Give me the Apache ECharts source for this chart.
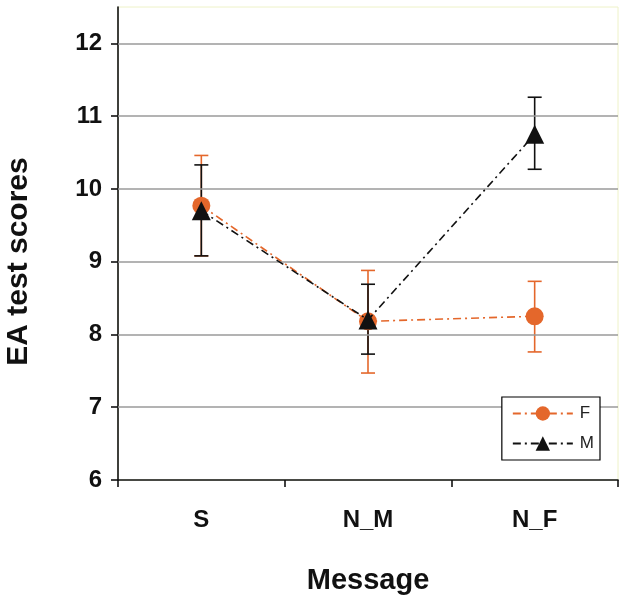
<!DOCTYPE html>
<html><head><meta charset="utf-8">
<script src="https://cdn.jsdelivr.net/npm/echarts@6/dist/echarts.min.js"></script>
<style>html,body{margin:0;padding:0;background:#fff}#c{width:628px;height:601px}</style>
</head><body><div id="c"></div>
<script>
const categories = ['S', 'N_M', 'N_F'];
const fMean = [9.77, 8.18, 8.25];
const fLow  = [9.08, 7.47, 7.76];
const fHigh = [10.46, 8.88, 8.73];
const mMean = [9.70, 8.20, 10.75];
const mLow  = [9.08, 7.73, 10.27];
const mHigh = [10.33, 8.69, 11.26];
const yTicks = [6, 7, 8, 9, 10, 11, 12];
const gridValues = [7, 8, 9, 10, 11, 12];

const ORANGE = '#E4672B';
const BLACK = '#111111';
const FONT = 'Arial, Liberation Sans, sans-serif';

function errSeries(name, low, high, color, z) {
  return {
    type: 'custom', name: name + '_err', z: z, silent: true,
    data: categories.map((c, i) => [i, low[i], high[i]]),
    renderItem: function (params, api) {
      const x = api.coord([api.value(0), 0])[0];
      const lo = api.coord([api.value(0), api.value(1)])[1];
      const hi = api.coord([api.value(0), api.value(2)])[1];
      const w = 7;
      const st = { stroke: color, lineWidth: 1.6 };
      return { type: 'group', children: [
        { type: 'line', shape: { x1: x, y1: lo, x2: x, y2: hi }, style: st },
        { type: 'line', shape: { x1: x - w, y1: lo, x2: x + w, y2: lo }, style: st },
        { type: 'line', shape: { x1: x - w, y1: hi, x2: x + w, y2: hi }, style: st }
      ]};
    }
  };
}

const chart = echarts.init(document.getElementById('c'));
chart.setOption({
  animation: false,
  grid: { left: 118, right: 10, top: 7, bottom: 121, containLabel: false, outerBoundsMode: 'none',
          show: true, borderColor: '#eef2c8', borderWidth: 1 },
  legend: {
    data: ['F', 'M'], orient: 'vertical', right: 28, top: 397, z: 20,
    itemWidth: 60, itemHeight: 18, itemGap: 13,
    borderColor: '#000', borderWidth: 1.2, padding: [8, 6, 8, 10],
    textStyle: { fontFamily: FONT, fontSize: 17, color: '#222', padding: [0, 0, 0, 2] },
    backgroundColor: '#fff'
  },
  xAxis: {
    type: 'category', data: categories, boundaryGap: true,
    name: 'Message', nameLocation: 'middle', nameGap: 86,
    nameTextStyle: { fontFamily: FONT, fontWeight: 'bold', fontSize: 29, color: '#111' },
    axisLine: { lineStyle: { color: '#111', width: 1.6 } },
    axisTick: { show: true, length: 7, lineStyle: { color: '#111', width: 1.6 } },
    axisLabel: { margin: 28, fontFamily: FONT, fontWeight: 'bold', fontSize: 24, color: '#111' }
  },
  yAxis: {
    type: 'value', min: 6, max: 12.5, interval: 1,
    name: 'EA test scores', nameLocation: 'middle', nameGap: 84, nameRotate: 90,
    nameTextStyle: { fontFamily: FONT, fontWeight: 'bold', fontSize: 30, color: '#111', padding: [0, 36, 0, 0] },
    axisLine: { show: true, lineStyle: { color: '#111', width: 1.6 } },
    axisTick: { show: true, length: 7, customValues: yTicks, lineStyle: { color: '#111', width: 1.6 } },
    splitLine: { show: false },
    axisLabel: {
      margin: 16, fontFamily: FONT, fontWeight: 'bold', fontSize: 24, color: '#111',
      customValues: yTicks
    }
  },
  series: [
    {
      name: 'grid', type: 'line', data: [], z: 1, silent: true,
      markLine: {
        silent: true, symbol: 'none', label: { show: false },
        lineStyle: { color: '#9a9a9a', width: 1.6, type: 'solid' },
        data: gridValues.map(v => ({ yAxis: v }))
      }
    },
    errSeries('F', fLow, fHigh, ORANGE, 2),
    errSeries('M', mLow, mHigh, BLACK, 3),
    {
      name: 'F', type: 'line', data: fMean, z: 4,
      symbol: 'circle', symbolSize: 18,
      itemStyle: { color: ORANGE },
      lineStyle: { color: ORANGE, width: 1.6, type: [8, 4, 2, 4] }
    },
    {
      name: 'M', type: 'line', data: mMean, z: 5,
      symbol: 'triangle', symbolSize: 19,
      itemStyle: { color: BLACK },
      lineStyle: { color: BLACK, width: 1.6, type: [8, 4, 2, 4] }
    }
  ]
});
</script></body></html>
